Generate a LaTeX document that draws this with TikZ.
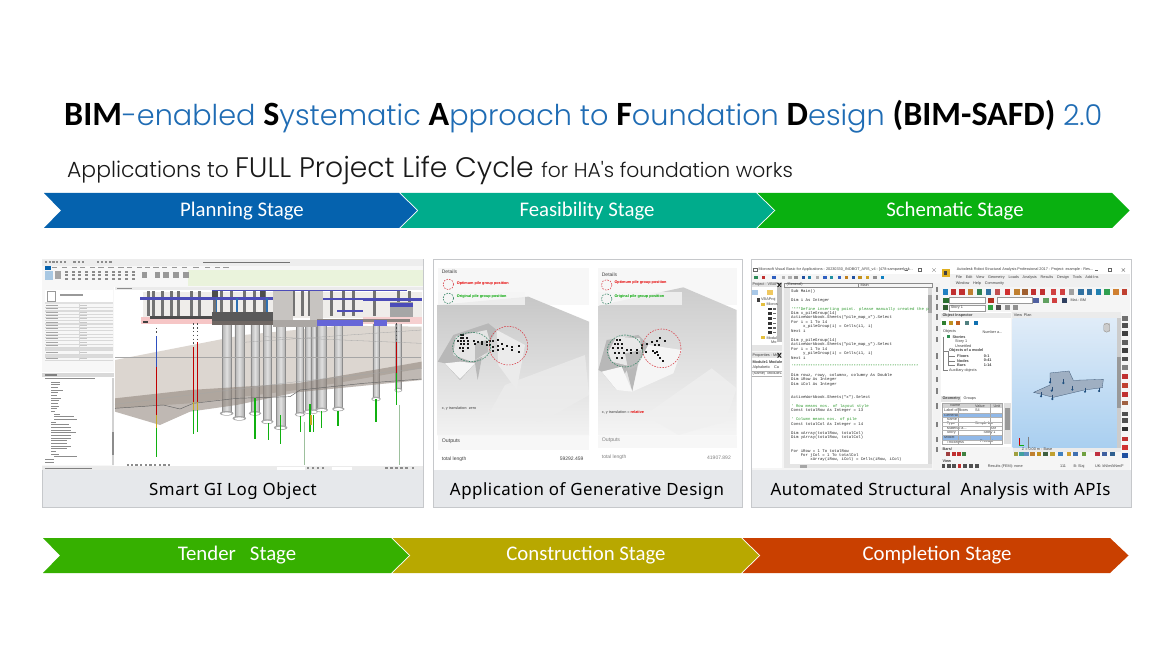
\documentclass[tikz,border=0pt]{standalone}
\usepackage{fontspec}
\setmainfont{Carlito}
\newfontfamily\ttlfont{Poppins Light}
\newfontfamily\capfont[LetterSpace=3]{Noto Sans}
\newfontfamily\uifont{Liberation Sans}
\newfontfamily\codefont{Liberation Mono}
\definecolor{ttlblue}{HTML}{1F6CB4}
\definecolor{capbg}{HTML}{E6E8EB}
\definecolor{cardline}{HTML}{C6C8CB}
\definecolor{cplan}{HTML}{0562AE}
\definecolor{cfeas}{HTML}{00AC8C}
\definecolor{csche}{HTML}{09B010}
\definecolor{ctend}{HTML}{36B000}
\definecolor{ccons}{HTML}{B8A800}
\definecolor{ccomp}{HTML}{C94000}
\definecolor{codegreen}{HTML}{2E9A2E}
\definecolor{deck}{HTML}{4C4CB8}
\definecolor{pilered}{HTML}{C00000}
\definecolor{pilegreen}{HTML}{10B010}
\definecolor{viewtop}{HTML}{E0ECF8}
\definecolor{viewbot}{HTML}{A9CFF0}
\newcommand\setHTMLcol[1]{\definecolor{tmpc}{HTML}{#1}}
\newcommand\ttlbold{\color{black}\normalfont\bfseries\fontsize{34}{38}\selectfont}
\newcommand\ttllight{\color{ttlblue}\ttlfont\mdseries\fontsize{28.7}{38}\selectfont}
\tikzset{
  HTML/.code={\edef\tmpcv{#1}\expandafter\setHTMLcol\expandafter{\tmpcv}\pgfkeysalso{color=tmpc}},
  stagetext/.style={text=white,font=\fontsize{20.8}{23}\selectfont,inner sep=0pt},
  captext/.style={text=black,font=\capfont\fontsize{16.9}{20}\selectfont,inner sep=0pt},
  uitext/.style={anchor=west,inner sep=0pt,text=black!75,font=\uifont\fontsize{3.8}{4}\selectfont},
  codeline/.style={anchor=west,inner sep=0pt,text=black!85,font=\codefont\fontsize{4}{4.4}\selectfont},
  cardframe/.style={draw=cardline,line width=.9pt,fill=white},
  capband/.style={fill=capbg},
  dashcirc/.style={dashed,dash pattern=on 1.6pt off 1.2pt,line width=.55pt}
}
\newcount\tc
\newcommand\tl[4][]{\global\advance\tc by 1 \node[uitext,#1] (ui\the\tc) at (#2,#3) {#4};}
\newcommand\cl[3][]{\global\advance\tc by 1 \node[codeline,#1] (ui\the\tc) at (138,#2) {#3};}
\begin{document}
\begin{tikzpicture}[x=1pt,y=-1pt]
\useasboundingbox (0,0) rectangle (1172,660);
\fill[white] (0,0) rectangle (1172,660);

% ---------- titles
\node[anchor=base west,inner sep=0pt] (title) at (64,125.5) {%
  \ttlbold BIM%
  \ttllight -enabled %
  \ttlbold S%
  \ttllight ystematic %
  \ttlbold A%
  \ttllight pproach to %
  \ttlbold F%
  \ttllight oundation %
  \ttlbold D%
  \ttllight esign %
  \ttlbold (BIM-SAFD) %
  \ttllight 2.0};
\node[anchor=base west,inner sep=0pt,text=black!90] (subtitle) at (67,177.5) {\ttlfont
  \fontsize{21.9}{30}\selectfont Applications to
  \fontsize{28.2}{30}\selectfont FULL Project Life Cycle
  \fontsize{20.3}{30}\selectfont for HA's foundation works};

% ---------- stage chevrons, top row
\fill[cplan] (44,193) -- (399,193) -- (417,210.5) -- (399,228) -- (44,228) -- (61,210.5) -- cycle;
\fill[cfeas] (400.5,193) -- (756,193) -- (774,210.5) -- (756,228) -- (400.5,228) -- (418.5,210.5) -- cycle;
\fill[csche] (757.5,193) -- (1112,193) -- (1129.5,210.5) -- (1112,228) -- (757.5,228) -- (775.5,210.5) -- cycle;
\node[stagetext] (planning) at (242,211) {Planning Stage};
\node[stagetext] (feasibility) at (587,211) {Feasibility Stage};
\node[stagetext] (schematic) at (955,211) {Schematic Stage};

% ---------- stage chevrons, bottom row
\fill[ctend] (43,538) -- (391,538) -- (409,555.5) -- (391,573) -- (43,573) -- (60,555.5) -- cycle;
\fill[ccons] (392.5,538) -- (741,538) -- (759,555.5) -- (741,573) -- (392.5,573) -- (410.5,555.5) -- cycle;
\fill[ccomp] (742.5,538) -- (1110,538) -- (1128.5,555.5) -- (1110,573) -- (742.5,573) -- (760.5,555.5) -- cycle;
\node[stagetext] (tender) at (237,555.5) {Tender\ \ \ Stage};
\node[stagetext] (construction) at (586,555.5) {Construction Stage};
\node[stagetext] (completion) at (937,555.5) {Completion Stage};

% ---------- card frames
\path[cardframe] (42,259) rectangle (423.5,507);
\path[cardframe] (433,259) rectangle (742,507);
\path[cardframe] (751,259) rectangle (1131,507);

% ================= CARD 1 : BIM screenshot
\begin{scope}[shift={(30,255)},x=.33333pt,y=-.33333pt]
\fill[black!7] (37,13) rectangle (1180,32);
\fill[black!3] (37,32) rectangle (1180,95);
\fill[HTML=EAF3DC] (475,44) rectangle (1180,92);
\fill[cplan] (44,32) rectangle (62,44);
\fill[black!55] (520,20) rectangle (780,24);
\foreach \x in {45,56,67,78,90,102,130,143,156,200,213,225,238}
  \fill[black!45] (\x,17) rectangle +(7,8);
\foreach \x in {65,95,125,150,180,205,235,265,290,320,345,370,395,425,455,490,525,555,580}
  \fill[black!40] (\x,35) rectangle +(16,3);
\fill[cplan!35] (45,47) rectangle (68,75);
\fill[black!35] (76,47) rectangle (92,72);
\foreach \x in {105,125,145,165,185,205,225,245,265,285,305}
  \foreach \y in {47,58,68}
    \fill[black!45] (\x,\y) rectangle +(9,6);
\foreach \x in {335,375,400,430,460}
  \fill[black!40] (\x,50) rectangle +(16,20);
% left panel
\fill[black!3] (37,95) rectangle (252,632);
\fill[white] (45,105) rectangle (248,140);
\draw[black!40,line width=.3pt] (52,108) rectangle (75,138);
\fill[black!40] (90,118) rectangle (160,122);
\fill[black!12] (45,140) rectangle (248,147);
\foreach \y in {150,160,170,180,190,200,210,220,230,240,250,260,270,280,290,300,310}{
  \fill[black!35] (47,\y) rectangle +(38,2.5);
  \draw[black!15,line width=.2pt] (45,\y+6) -- (248,\y+6);
  \draw[black!15,line width=.2pt] (146,\y-3) -- (146,\y+6);
  \fill[black!22] (150,\y) rectangle +(22,2.5);
}
\foreach \y in {167,207,282,303}
  \fill[black!14] (45,\y-3) rectangle (248,\y+3);
\fill[white] (37,352) rectangle (252,630);
\fill[black!15] (37,355) rectangle (252,365);
\fill[black!50] (45,358) rectangle (80,362);
\foreach \y/\x/\w in {370/45/150,380/62/28,388/62/28,397/62/22,404/62/38,412/62/22,420/62/20,428/62/30,436/62/24,444/62/22,452/62/24,460/62/20,468/62/14,476/72/18,484/72/60,492/72/70,500/62/16,508/62/55,516/62/60,524/62/62,532/62/75,540/62/62,548/62/60,556/62/50,564/62/48,572/62/62,580/62/48,588/62/16,596/62/24,604/72/70,612/45/28,620/45/28}
  \fill[black!45] (\x,\y) rectangle +(\w,2.6);
\fill[black!18] (246,370) rectangle (252,630);
\fill[black!45] (247,530) rectangle (252,600);
% view
\fill[white] (255,97) rectangle (1180,630);
\fill[black!8] (255,97) rectangle (1180,105);
\fill[black!45] (262,100) rectangle (305,103);
% ground, upper translucent strata
\fill[HTML=DCD6D0] (255,315) -- (640,240) -- (930,212) -- (1175,215) -- (1175,340) -- (800,405) -- (480,445) -- (255,460) -- cycle;
\foreach \x/\w/\b in {590/27/475,628/27/490,675/25/475,712/25/500,752/27/518,810/21/478,836/20/470,852/15/470,875/26/465,925/25/462,1038/19/432,1105/16/405}{
  \shade[left color=black!30,right color=black!32,middle color=black!12] ({\x-\w/2},205) rectangle ({\x+\w/2},\b);
  \draw[black!45,line width=.25pt] ({\x-\w/2},205) -- ({\x-\w/2},\b) ({\x+\w/2},205) -- ({\x+\w/2},\b);
  \fill[black!35] (\x,\b) ellipse ({\w*.75} and 7);
  \fill[white] (\x,\b+1) ellipse ({\w*.55} and 4);
}
\fill[HTML=8B7F75,fill opacity=.55] (255,430) -- (480,405) -- (800,385) -- (1175,320) -- (1175,375) -- (800,412) -- (620,450) -- (480,470) -- (390,510) -- (255,470) -- cycle;
\draw[black!60,line width=.45pt] (255,460) -- (400,450) -- (450,462) -- (490,445) -- (620,430) -- (780,425) -- (810,405) -- (1000,385) -- (1175,372);
\draw[black!35,line width=.3pt] (255,305) -- (1172,305);
\draw[black!35,line width=.3pt] (640,262) -- (1175,225) (255,448) -- (800,380) -- (1175,340) (700,245) -- (1175,265);
% structure
\fill[HTML=EFEDEA] (340,110) rectangle (1175,190);
\foreach \x in {352,365,392,420,440,480,505,550,570,600,640,670,700,785,812,835,900,935,965,1030,1100,1135}
  \fill[black!55] (\x,108) rectangle +(9,75);
\fill[HTML=C7C4C1] (730,108) rectangle (790,195);
\fill[HTML=C7C4C1] (840,108) rectangle (880,195);
\fill[black!70] (545,108) rectangle (565,130);
\fill[black!70] (690,108) rectangle (705,125);
\fill[black!35] (1080,140) rectangle (1148,190);
\fill[HTML=F6C6C6] (332,186) rectangle (545,207);
\fill[HTML=F6D0D0] (1000,186) rectangle (1175,207);
\fill[black!70] (360,183) rectangle (545,192);
\fill[black!65] (545,172) rectangle (730,198);
\fill[HTML=6F6763] (545,198) rectangle (730,211);
\fill[HTML=ABA7A4] (730,195) rectangle (860,217);
\fill[HTML=8C8480] (860,192) rectangle (1140,200);
\fill[HTML=6666D8] (860,195) rectangle (998,212);
\fill[HTML=6666D8] (1032,195) rectangle (1072,212);
\fill[deck] (330,127) rectangle (730,135);
\fill[deck] (1000,130) rectangle (1175,137);
\fill[deck] (880,128) rectangle (1080,134);
\fill[deck] (545,105) rectangle (1130,108);
\fill[deck] (920,165) rectangle (1000,172);
\fill[deck] (1080,145) rectangle (1148,155);
\foreach \x in {557,618,708} \fill[HTML=2E6FB0] (\x,128) rectangle +(5,42);
\fill[black!75] (340,197) rectangle (355,204);
% boreholes
\tikzset{bore/.style={line width=1.5pt}}
\draw[bore,pilegreen] (675,430) -- (675,552) (715,505) -- (715,555) (752,480) -- (752,568) (812,482) -- (812,530) (840,448) -- (840,530) (851,480) -- (851,532) (875,468) -- (875,520) (924,468) -- (924,514) (1038,432) -- (1038,502) (1100,355) -- (1100,450) (491,465) -- (491,537) (503,465) -- (503,530) (379,520) -- (379,607);
\draw[bore,pilered] (491,275) -- (491,440) (503,262) -- (503,440) (1100,260) -- (1100,355) (379,335) -- (379,480);
\draw[bore,HTML=2E50C0] (379,243) -- (379,335);
\draw[bore,HTML=C8A820] (379,480) -- (379,520) (491,440) -- (491,465) (503,440) -- (503,465) (843,480) -- (843,510);
\draw[black!70,line width=.9pt,dash pattern=on 1.4pt off 2.4pt] (491,205) -- (491,270) (503,205) -- (503,262) (1100,205) -- (1100,258) (379,218) -- (379,240);
\draw[pilegreen!55!black!40,line width=.4pt] (822,500) -- (822,630) (1108,450) -- (1108,630);
% view bar and status
\foreach \x in {290,303,316,330,344,358,372,386,400,414}
  \fill[black!45] (\x,628) rectangle +(7,5);
\fill[black!8] (37,634) rectangle (1180,646);
\fill[black!50] (45,639) rectangle (185,642);
\fill[white] (740,636) rectangle (825,645);
\fill[white] (905,636) rectangle (965,645);
\foreach \x in {830,845,860,875,1065,1080,1095,1110,1125,1145}
  \fill[black!45] (\x,637) rectangle +(8,6);
\end{scope}

% ================= CARD 2 : Generative design
\begin{scope}[shift={(425,255)},x=.33333pt,y=-.33333pt]
\fill[HTML=F7F7F7] (38,38) rectangle (492,150);
\fill[HTML=F7F7F7] (38,542) rectangle (492,585);
\fill[HTML=F7F7F7] (520,38) rectangle (935,150);
\fill[HTML=F7F7F7] (520,542) rectangle (935,578);
% left terrain
\shade[top color=black!22,bottom color=black!5] (38,150) -- (310,125) -- (492,200) -- (492,542) -- (38,542) -- cycle;
\fill[black!7,opacity=.7] (240,390) -- (480,300) -- (492,420) -- (350,500) -- (190,480) -- cycle;
\fill[black!28] (38,320) -- (85,240) -- (190,205) -- (215,225) -- (172,300) -- (158,375) -- (150,325) -- (105,375) -- (60,325) -- cycle;
\fill[black!4] (60,325) -- (105,320) -- (150,325) -- (105,372) -- cycle;
\fill[black!10] (85,300) -- (92,245) -- (185,225) -- (195,260) -- (180,300) -- (140,320) -- cycle;
\fill[black!26] (150,265) -- (185,255) -- (190,290) -- (150,315) -- cycle;
\fill[black!8] (215,225) -- (300,270) -- (275,405) -- (220,330) -- cycle;
% right terrain
\shade[top color=black!20,bottom color=black!4] (520,152) -- (775,97) -- (935,165) -- (935,542) -- (520,542) -- cycle;
\fill[black!6,opacity=.7] (660,480) -- (860,340) -- (935,400) -- (900,500) -- (760,540) -- cycle;
\fill[black!28] (520,345) -- (545,255) -- (640,240) -- (670,270) -- (640,320) -- (622,410) -- (605,345) -- (575,405) -- (530,350) -- cycle;
\fill[black!3] (530,350) -- (590,335) -- (622,410) -- (575,405) -- cycle;
\fill[black!9] (550,290) -- (575,245) -- (645,250) -- (650,290) -- (620,335) -- (560,320) -- cycle;
\fill[black!26] (600,295) -- (650,285) -- (635,335) -- (610,345) -- cycle;
\fill[black!4] (670,270) -- (770,285) -- (745,355) -- (622,410) -- (640,330) -- cycle;
% upper band over terrain
\fill[HTML=F5F5F5,opacity=.8] (38,112) rectangle (300,150);
\fill[HTML=F5F5F5,opacity=.8] (520,112) rectangle (770,150);
% dots
\foreach \x/\y in {108/240,115/240,108/248,115/248,125/248,100/258,108/258,118/258,128/258,148/258,160/262,172/262,185/262,195/258,108/268,118/268,130/268,150/268,172/268,185/270,105/278,115/278,128/280,195/270,205/258,218/256,205/275,218/272,232/268,247/272,262/275,282/272,205/288,218/285,235/282,262/285,283/290,113/288,
 575/255,585/255,570/268,580/268,592/268,565/280,578/280,590/280,605/285,618/285,635/285,650/280,570/295,582/295,597/295,618/295,635/295,575/308,590/308,650/270,665/268,680/262,695/258,705/250,720/258,690/270,703/270,662/290,685/288,695/290,700/300,705/310,715/318,690/295}
  \fill[black!90] (\x-2.8,\y-2.8) rectangle (\x+2.8,\y+2.8);
% dashed circles
\draw[dashcirc,HTML=D8404A] (250,272) circle (58);
\draw[dashcirc,HTML=2E8060] (140,276) circle [x radius=57,y radius=44];
\draw[dashcirc,HTML=D8404A] (710,280) circle (58);
\draw[dashcirc,HTML=2E8060] (600,288) circle [x radius=53,y radius=48];
\draw[dashcirc,HTML=D8404A] (70,88) circle (16);
\draw[dashcirc,HTML=2E8060] (70,130) circle (16);
\draw[dashcirc,HTML=D8404A] (545,90) circle (16);
\draw[dashcirc,HTML=2E8060] (545,132) circle (16);
% labels
\tl{50}{50}{\fontsize{5}{6}\selectfont Details}
\tl{530}{60}{\fontsize{5}{6}\selectfont Details}
\tl[text=red!90!black]{95}{85}{\bfseries Optimum pile group position}
\tl[text=green!65!black]{95}{125}{\bfseries Original pile group position}
\tl[text=red!90!black]{568}{83}{\bfseries Optimum pile group position}
\tl[text=green!65!black]{568}{125}{\bfseries Original pile group position}
\tl{50}{462}{x, y translation: zero}
\tl{530}{473}{x, y translation = {\color{red!90!black}\bfseries relative}}
\tl{50}{558}{\fontsize{5.2}{6}\selectfont Outputs}
\tl[text=black!50]{530}{556}{\fontsize{5.2}{6}\selectfont Outputs}
\tl{50}{612}{\fontsize{5}{6}\selectfont total length}
\tl[text=black!50]{530}{607}{\fontsize{5}{6}\selectfont total length}
\tl[anchor=east]{476}{612}{\fontsize{5}{6}\selectfont 59292.459}
\tl[anchor=east,text=black!50]{918}{607}{\fontsize{5}{6}\selectfont 41907.892}
\end{scope}

% ================= CARD 3 : VBA and Robot
\begin{scope}[shift={(745,255)},x=.33333pt,y=-.33333pt]
\fill[black!4] (20,35) rectangle (1155,645);
\fill[white] (20,35) rectangle (585,56);
\tl{40}{45}{Microsoft Visual Basic for Applications - 20230330\_INOBOT\_ARS\_v4 - [478-sampwerlysk...}
\draw[black!60,line width=.4pt] (26,39) rectangle (36,50);
\fill[black!60] (480,44) rectangle (490,45);
\draw[black!60,line width=.3pt] (520,40) rectangle (528,48);
\draw[black!60,line width=.3pt] (562,40) -- (572,50) (572,40) -- (562,50);
% vba toolbar
\foreach \x/\c in {28/2E8B57,50/C03030,82/3060C0,110/B0B0B0,130/B0B0B0,148/909090,170/2050A0,188/2080A0,212/B0B0B0,235/3060C0,255/2090A0,278/3060C0,300/C08020,320/2050A0,340/C09020,362/D0A020,385/909090,408/1080C0}
  \fill[HTML=\c] (\x,62) rectangle +(10,11);
% project panel
\fill[black!10] (20,82) rectangle (112,97);
\tl{22}{90}{Project - VBAProj}
\fill[black!85] (96,84) -- (100,84) -- (110,96) -- (106,96) -- cycle;
\fill[black!85] (106,84) -- (110,84) -- (100,96) -- (96,96) -- cycle;
\fill[white] (20,97) rectangle (112,288);
\fill[HTML=A8C8E8] (22,105) rectangle (38,120);
\fill[HTML=F0C860] (66,105) rectangle (84,120);
\fill[black!25] (96,97) rectangle (112,262);
\tl{48}{134}{VBAProj}
\fill[black!75] (36,128) rectangle (46,140);
\tl{64}{147}{Micros}
\tl{64}{248}{Modul}
\tl{78}{262}{Mo}
\fill[HTML=E4C040] (48,143) rectangle (60,152);
\fill[HTML=E4C040] (48,244) rectangle (60,253);
\foreach \y in {162,176,191,205,219,232}{
  \fill[black!80] (70,\y-4) rectangle (82,\y+4);
  \fill[black!60] (84,\y-2) rectangle (94,\y+2);
}
\fill[black!10] (20,270) rectangle (112,288);
\fill[black!10] (20,292) rectangle (112,310);
\tl{22}{301}{Properties - Mo}
\fill[black!85] (96,294) -- (100,294) -- (110,308) -- (106,308) -- cycle;
\fill[black!85] (106,294) -- (110,294) -- (100,308) -- (96,308) -- cycle;
\fill[white] (20,310) rectangle (112,640);
\tl{22}{322}{\bfseries Module1 Module}
\tl{22}{339}{Alphabetic\quad Ca}
\tl{22}{356}{(Name)\ \ Module1}
\draw[black!30,line width=.3pt] (20,347) -- (112,347) (20,363) -- (112,363);
% code
\fill[white] (118,98) rectangle (562,628);
\draw[black!45,line width=.3pt] (118,83) rectangle (338,96);
\draw[black!45,line width=.3pt] (340,83) rectangle (560,96);
\tl{124}{90}{(General)}
\tl{346}{90}{Main}
\fill[black!10] (118,98) rectangle (135,628);
\fill[black!14] (548,98) rectangle (562,628);
\fill[black!35] (549,120) rectangle (561,175);
\fill[black!10] (118,628) rectangle (562,640);
\fill[black!35] (165,629) rectangle (185,639);
\cl{108}{Sub Main()}
\cl{135}{Dim i As Integer}
\cl[text=codegreen]{162}{'***Define inserting point. please manually created the p}
\cl{175}{Dim x\_pileGroup(14)}
\cl{188}{ActiveWorkbook.Sheets("pile\_map\_x").Select}
\cl{201}{For i = 1 To 14}
\cl{214}{\ \ \ \ \ x\_pileGroup(i) = Cells(i1, i)}
\cl{228}{Next i}
\cl{255}{Dim y\_pileGroup(14)}
\cl{268}{ActiveWorkbook.Sheets("pile\_map\_y").Select}
\cl{281}{For i = 1 To 14}
\cl{295}{\ \ \ \ \ y\_pileGroup(i) = Cells(i1, i)}
\cl{308}{Next i}
\cl[text=codegreen]{333}{'****************************************************}
\cl{361}{Dim rowz, rowy, columnx, columny As Double}
\cl{374}{Dim iRow As Integer}
\cl{387}{Dim iCol As Integer}
\cl{427}{ActiveWorkbook.Sheets("x").Select}
\cl[text=codegreen]{454}{' Row means nos. of layout style}
\cl{467}{Const totalRow As Integer = 13}
\cl[text=codegreen]{494}{' Column means nos. of pile}
\cl{507}{Const totalCol As Integer = 14}
\cl{534}{Dim xArray(totalRow, totalCol)}
\cl{547}{Dim yArray(totalRow, totalCol)}
\cl{587}{For iRow = 1 To totalRow}
\cl{600}{\ \ \ \ For jCol = 1 To totalCol}
\cl{613}{\ \ \ \ \ \ \ \ xArray(iRow, iCol) = Cells(iRow, iCol)}
% robot window
\fill[black!5] (565,85) rectangle (585,645);
\foreach \y in {95,120,148,178,212,245,295,330,365,400,445,500,545,575}
  \fill[black!50] (572,\y) rectangle +(8,16);
\fill[white] (585,35) rectangle (1155,56);
\fill[HTML=E0B020] (590,42) rectangle (614,66);
\fill[black!75] (597,48) rectangle (607,60);
\tl{635}{45}{Autodesk Robot Structural Analysis Professional 2017 - Project: example - Res...}
\fill[black!60] (1050,44) rectangle (1060,45);
\draw[black!60,line width=.3pt] (1090,40) rectangle (1098,48);
\draw[black!60,line width=.3pt] (1130,40) -- (1140,50) (1140,40) -- (1130,50);
\fill[black!6] (614,56) rectangle (1155,96);
\tl{632}{68}{File\quad Edit\quad View\quad Geometry\quad Loads\quad Analysis\quad Results\quad Design\quad Tools\quad Add-Ins}
\tl{632}{87}{Window\quad Help\quad Community}
\foreach \x/\c in {593/2080C0,618/C03030,643/C03030,668/C08030,695/308050,722/3070A0,750/C05050,780/D03030,808/C08030,832/A06030,858/C03030,884/C03030,918/D04040,945/D04040,972/A0A0A0,1000/3070A0,1025/3070A0,1052/2080B0,1078/30A050,1105/D08030,1130/C04030}
  \fill[HTML=\c] (\x,101) rectangle +(16,18);
\fill[white] (612,127) rectangle (720,143);
\draw[black!40,line width=.3pt] (612,127) rectangle (720,143);
\fill[white] (755,127) rectangle (860,143);
\draw[black!40,line width=.3pt] (755,127) rectangle (860,143);
\foreach \x/\c in {595/2A7030,730/B03020,865/5060A0,895/60A060,920/D04040,950/304060}
  \fill[HTML=\c] (\x,128) rectangle +(16,15);
\tl{976}{135}{Mat.: BM}
\fill[white] (612,150) rectangle (720,168);
\draw[black!40,line width=.3pt] (612,150) rectangle (720,168);
\tl{617}{159}{Story 1}
\foreach \x/\c in {595/306030,728/30A040,752/505050,780/909090,805/909090}
  \fill[HTML=\c] (\x,151) rectangle +(15,15);
% object inspector
\fill[white] (588,172) rectangle (797,422);
\fill[black!8] (588,175) rectangle (797,190);
\tl{592}{182}{\bfseries Object Inspector}
\foreach \x/\c in {592/308030,612/C09020,632/C06020,660/508080,686/1070B0}
  \fill[HTML=\c] (\x,198) rectangle +(12,13);
\tl{594}{230}{Objects}
\tl{712}{230}{Number a...}
\fill[HTML=2E9050] (606,240) rectangle (615,250);
\tl{622}{245}{\bfseries Stories}
\tl{630}{260}{Story 1}
\tl{630}{274}{Unsettled}
\tl{612}{288}{\bfseries Objects of a model}
\tl{636}{303}{\bfseries Floors}\tl{716}{303}{\bfseries 0:1}
\tl{636}{317}{\bfseries Nodes}\tl{716}{317}{\bfseries 0:41}
\tl{636}{331}{\bfseries Bars}\tl{716}{331}{\bfseries 1:14}
\tl{612}{346}{Auxiliary objects}
\draw[black!50,line width=.25pt] (594,245) -- (594,346) -- (610,346) (594,288) -- (610,288) (610,288) -- (610,331) -- (630,331) (610,303) -- (630,303) (610,317) -- (630,317);
% geometry grid
\fill[white] (588,424) rectangle (797,575);
\fill[black!10] (588,424) rectangle (648,440);
\tl{592}{432}{\bfseries Geometry}
\tl{655}{432}{Groups}
\fill[black!18] (592,444) rectangle (770,460);
\tl{615}{452}{Name}\tl{690}{452}{Value}\tl{745}{452}{Unit}
\tl{597}{466}{Label of floors}\tl{690}{466}{S4}
\fill[HTML=90B8E8] (592,473) rectangle (770,487);
\tl{597}{480}{General}
\tl{605}{494}{Name}
\tl{605}{507}{Type}\tl{690}{507}{Simple bar}
\tl{605}{520}{Material a...}\tl{735}{520}{Bar}
\tl{605}{533}{Story}\tl{715}{533}{Story 1}
\fill[HTML=90B8E8] (592,540) rectangle (770,554);
\tl{597}{547}{Model}
\tl{605}{560}{Thickness}\tl{705}{560}{Precast}
\draw[black!35,line width=.2pt] (592,444) rectangle (770,568) (640,460) -- (640,568) (735,444) -- (735,568);
\foreach \y in {473,487,500,513,526,540,554}
  \draw[black!30,line width=.2pt] (592,\y) -- (770,\y);
\fill[black!12] (778,444) rectangle (797,568);
\fill[black!40] (781,458) rectangle (794,525);
% bars row
\tl{592}{582}{\bfseries Bars/}
\foreach \x/\c in {603/A04040,620/C03030,636/C03030,650/408040}
  \fill[HTML=\c] (\x,590) rectangle +(13,13);
\tl{592}{618}{\bfseries View}
\foreach \x/\c in {590/505050,606/505050,622/505050,638/C03030,655/505050,672/505050,690/505050}
  \fill[HTML=\c] (\x,628) rectangle +(11,11);
\tl{728}{634}{Results (FEM): none}
\tl{945}{634}{111}\tl{985}{634}{B: Slaj}\tl{1050}{634}{UK: kN/m/kNm/F}
% 3D view
\fill[black!8] (800,172) rectangle (1128,190);
\tl{806}{181}{View}\tl{836}{181}{Plan}
\shade[top color=viewtop,bottom color=viewbot] (803,190) rectangle (1116,578);
\fill[black!20] (1116,190) rectangle (1128,578);
\fill[black!40] (1117,305) rectangle (1127,460);
\fill[black!20] (1076,205) rectangle (1094,232);
\draw[black!45,line width=.3pt] (1076,210) -- (1085,205) -- (1094,210) -- (1094,226) -- (1085,232) -- (1076,226) -- cycle;
\fill[HTML=9FAFC2] (915,354) -- (972,348) -- (985,376) -- (1075,373) -- (1072,398) -- (1018,405) -- (925,427) -- (866,412) -- (915,390) -- cycle;
\draw[HTML=405A78,line width=.3pt] (915,354) -- (972,348) -- (985,376) -- (1075,373) -- (1072,398) -- (1018,405) -- (925,427) -- (866,412) -- (915,390) -- cycle;
\foreach \x/\y in {888/412,922/420,982/392,1020/398,1062/398,915/370,955/372,920/395}
  \draw[HTML=2A4E78,line width=.3pt] (\x,\y) -- (\x,\y+12);
\foreach \x/\y in {888/424,922/432,982/404,1020/410,1062/408,915/382,955/384,920/407}
  \fill[HTML=1F5080] (\x,\y) circle (3.5);
\draw[red!80!black,line width=.5pt] (822,572) -- (822,550);
\draw[pilegreen,line width=.5pt] (822,572) -- (838,572);
\draw[black!50,line width=.25pt] (850,545) -- (850,578);
\fill[black!8] (803,578) rectangle (1128,590);
\tl{830}{584}{Z = 0.00 m - Base}
\foreach \x/\c in {806/A0A040,822/40A0A0,838/6090C0,855/C08030,875/C09020,895/406040,915/C0A030,940/4080C0,965/D0A030,985/4070B0,1010/70A040,1050/C03040,1072/4060A0,1095/306090}
  \fill[HTML=\c] (\x,592) rectangle +(14,11);
% right toolbar
\foreach \y/\c in {183/707070,205/505050,228/404040,255/606060,280/404040,305/505050,330/808080,358/C03030,385/C04030,412/C03030,437/A06040,470/505050,490/505050,515/303030,545/C03030,570/D03030,595/2050A0}
  \fill[HTML=\c] (1132,\y) rectangle +(18,14);
\end{scope}

% ---------- caption bands and texts
\fill[capband] (42.5,469.5) rectangle (423,506.5);
\fill[capband] (433.5,470) rectangle (741.5,506.5);
\fill[capband] (751.5,470) rectangle (1130.5,506.5);
\node[captext] (cap1) at (233,491) {Smart GI Log Object};
\node[captext] (cap2) at (587,491) {Application of Generative Design};
\node[captext] (cap3) at (940.5,491) {Automated Structural\ \ Analysis with APIs};
\end{tikzpicture}
\end{document}
